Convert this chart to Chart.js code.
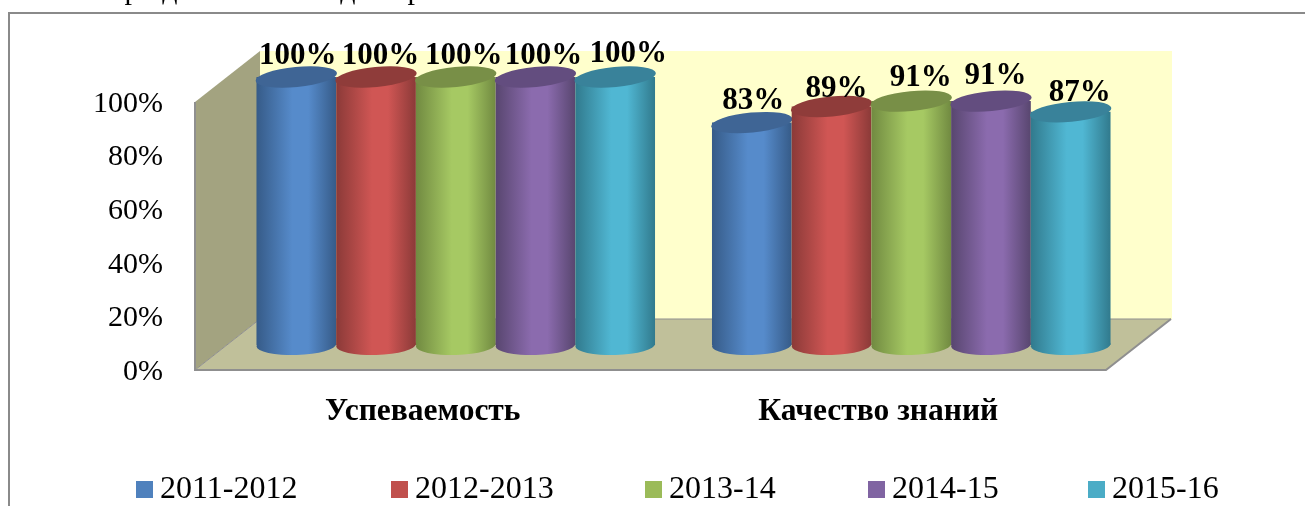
<!DOCTYPE html>
<html>
<head>
<meta charset="utf-8">
<style>
  html, body { margin: 0; padding: 0; background: #fff; overflow: hidden; }
  #box { position: relative; width: 1305px; height: 506px; }
</style>
<script src="https://cdn.jsdelivr.net/npm/chart.js@4"></script>
</head>
<body>
<div id="box"><canvas id="myChart" width="1305" height="506"></canvas></div>
<script>
const categorias = ["Успеваемость", "Качество знаний"];
const anios = ["2011-2012", "2012-2013", "2013-14", "2014-15", "2015-16"];
const serie1 = [100, 83];
const serie2 = [100, 89];
const serie3 = [100, 91];
const serie4 = [100, 91];
const serie5 = [100, 87];
const ticksY = [0, 20, 40, 60, 80, 100];

const colores = ["#4f81bd", "#c0504d", "#9bbb59", "#8064a2", "#4bacc6"];
const claros = ["#568bcb", "#d05654", "#a6c963", "#8b6bae", "#50b7d3"];
const oscuros = ["#365b88", "#8b3a38", "#718a41", "#58466f", "#317a8d"];
const tapas = ["#3f6595", "#8f3c3a", "#788f47", "#634d7f", "#39829a"];

const fuente = '"Liberation Serif", "Times New Roman", serif';
// profundidad del grafico 3D
const fondoX = 65, fondoY = -51;
const barraX = 33, barraY = -25;
const radioY = 10, giro = -0.095;
// ajuste a mano de las etiquetas, igual que en el original
const ajusteX = [[1.5, 1.5], [4.5, 5], [8, 9.5], [8, 4.5], [13, 9]];
const ajusteY = [[-13, -13.6], [-13, -9.5], [-13, -15], [-13, -17], [-15, -11]];
const legendaX = [136, 391, 645, 868, 1088];
// restos de la linea de texto cortada arriba del marco
const restos = [["р", 132], ["д", 170], ["д", 348], ["р", 415]];

function tapa(ctx, x, y, rx, color, angulo) {
  ctx.beginPath();
  ctx.ellipse(x, y, rx, radioY, angulo, 0, Math.PI * 2);
  ctx.fillStyle = color;
  ctx.fill();
}

function degradado(ctx, bar, i) {
  const izq = bar.x - bar.width / 2;
  const g = ctx.createLinearGradient(izq, 0, izq + bar.width, 0);
  g.addColorStop(0, oscuros[i]);
  g.addColorStop(0.45, claros[i]);
  g.addColorStop(0.65, claros[i]);
  g.addColorStop(1, oscuros[i]);
  return g;
}

const paredes = {
  id: "paredes",
  beforeDatasetsDraw(chart) {
    const { ctx, chartArea: a } = chart;
    const fx = a.left + fondoX, fy = a.bottom + fondoY, ty = a.top + fondoY;
    ctx.save();
    // texto cortado de la pagina
    ctx.fillStyle = "#000";
    ctx.font = "30px " + fuente;
    ctx.textAlign = "center";
    restos.forEach((r) => ctx.fillText(r[0], r[1], -1.5));
    // marco
    ctx.strokeStyle = "#8a8a8a";
    ctx.lineWidth = 2;
    ctx.beginPath();
    ctx.moveTo(9, 506);
    ctx.lineTo(9, 13);
    ctx.lineTo(1305, 13);
    ctx.stroke();
    // pared del fondo
    ctx.fillStyle = "#ffffcc";
    ctx.fillRect(fx, ty, a.width + 1, a.height);
    // pared izquierda
    ctx.fillStyle = "#a3a380";
    ctx.beginPath();
    ctx.moveTo(a.left, a.top);
    ctx.lineTo(fx, ty);
    ctx.lineTo(fx, fy);
    ctx.lineTo(a.left, a.bottom);
    ctx.closePath();
    ctx.fill();
    // piso
    ctx.fillStyle = "#c0c09a";
    ctx.beginPath();
    ctx.moveTo(a.left, a.bottom);
    ctx.lineTo(fx, fy);
    ctx.lineTo(a.right + fondoX, fy);
    ctx.lineTo(a.right, a.bottom);
    ctx.closePath();
    ctx.fill();
    // bordes
    ctx.strokeStyle = "#8f8f8f";
    ctx.lineWidth = 2;
    ctx.beginPath();
    ctx.moveTo(a.left, a.top);
    ctx.lineTo(a.left, a.bottom);
    ctx.lineTo(a.right, a.bottom);
    ctx.lineTo(a.right + fondoX, fy);
    ctx.stroke();
    ctx.lineWidth = 1;
    ctx.beginPath();
    ctx.moveTo(a.left, a.bottom);
    ctx.lineTo(fx, fy);
    ctx.lineTo(a.right + fondoX, fy);
    ctx.stroke();
    ctx.restore();
  },
  // chart.js pinta del ultimo al primero, aca se necesita al reves
  beforeDatasetDraw() {
    return false;
  },
  afterDatasetsDraw(chart) {
    const { ctx } = chart;
    ctx.save();
    ctx.translate(barraX, barraY);
    chart.data.datasets.forEach((ds, i) => {
      const meta = chart.getDatasetMeta(i);
      meta.data.forEach((bar) => {
        const g = degradado(ctx, bar, i);
        bar.options = { ...bar.options, backgroundColor: g };
        tapa(ctx, bar.x, bar.base, bar.width / 2, g, -0.03);
      });
      meta.controller.draw();
      meta.data.forEach((bar) => {
        tapa(ctx, bar.x, bar.y, bar.width / 2 + 1, tapas[i], giro);
      });
    });
    ctx.restore();

    ctx.save();
    // etiquetas de datos
    ctx.fillStyle = "#000";
    ctx.font = "bold 31px " + fuente;
    ctx.textAlign = "center";
    ctx.textBaseline = "alphabetic";
    chart.data.datasets.forEach((ds, i) => {
      chart.getDatasetMeta(i).data.forEach((bar, j) => {
        ctx.fillText(ds.data[j] + "%", bar.x + barraX + ajusteX[i][j], bar.y + barraY + ajusteY[i][j]);
      });
    });
    // leyenda
    ctx.font = "32px " + fuente;
    ctx.textAlign = "left";
    ctx.textBaseline = "middle";
    chart.data.datasets.forEach((ds, i) => {
      ctx.fillStyle = colores[i];
      ctx.fillRect(legendaX[i], 481, 17, 17);
      ctx.fillStyle = "#000";
      ctx.fillText(ds.label, legendaX[i] + 24, 490);
    });
    ctx.restore();
  },
};

const valores = [serie1, serie2, serie3, serie4, serie5];
const ctx = document.getElementById("myChart").getContext("2d");
const myChart = new Chart(ctx, {
  type: "bar",
  data: {
    labels: categorias,
    datasets: anios.map((anio, i) => ({
      label: anio,
      data: valores[i],
      backgroundColor: colores[i],
      borderWidth: 0,
      barPercentage: 1,
      categoryPercentage: 0.875,
    })),
  },
  options: {
    responsive: false,
    animation: false,
    layout: { padding: { left: 0, top: 102, right: 199, bottom: 0 } },
    plugins: { legend: { display: false }, tooltip: { enabled: false } },
    scales: {
      x: {
        grid: { display: false },
        border: { display: false },
        afterFit: (s) => { s.height = 136; },
        ticks: {
          color: "#000",
          padding: 15,
          maxRotation: 0,
          font: { family: fuente, size: 31.5, weight: "bold" },
        },
      },
      y: {
        min: 0,
        max: 100,
        grid: { display: false },
        border: { display: false },
        afterFit: (s) => { s.width = 195; },
        afterBuildTicks: (s) => { s.ticks = ticksY.map((v) => ({ value: v })); },
        ticks: {
          color: "#000",
          padding: 24,
          labelOffset: 2,
          callback: (v) => v + "%",
          font: { family: fuente, size: 30 },
        },
      },
    },
  },
  plugins: [paredes],
});
</script>
</body>
</html>
